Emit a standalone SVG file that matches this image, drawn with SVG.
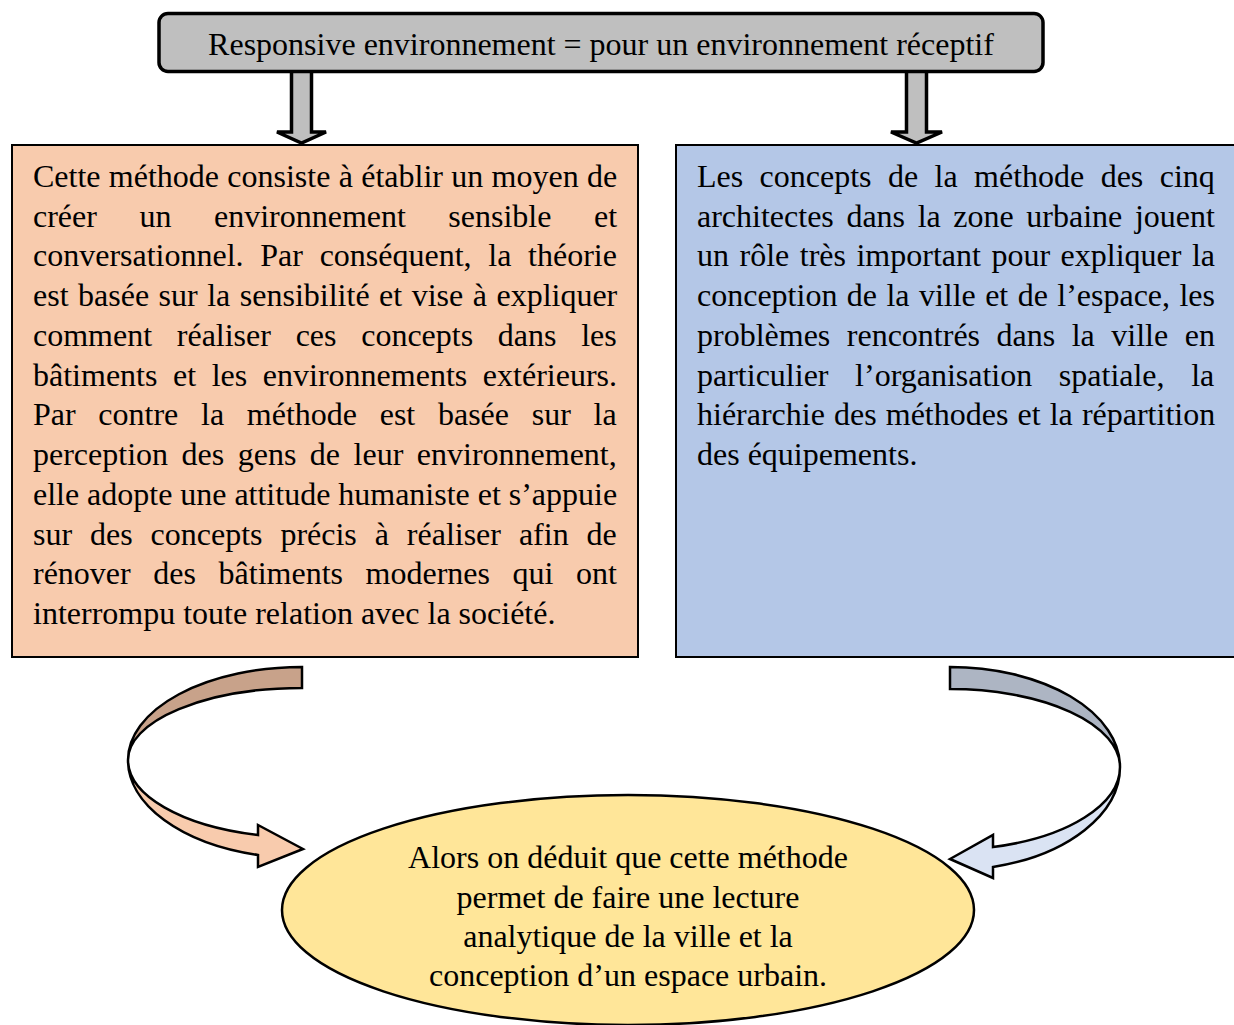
<svg xmlns="http://www.w3.org/2000/svg" width="1234" height="1025" viewBox="0 0 1234 1025">
<style>
text{font-family:"Liberation Serif","Times New Roman",serif;font-size:32px;fill:#000}
.c{text-anchor:middle}
.box{stroke:#000;stroke-width:2}
.arr{fill:#bfbfbf;stroke:#000;stroke-width:3.5;stroke-linejoin:miter}
.cv{stroke:#000;stroke-width:2.5;stroke-linejoin:miter}
</style>
<rect width="1234" height="1025" fill="#fff"/>
<g id="connectors">
<path class="arr" d="M291.5 71 L311.5 71 L311.5 132 L326 132 L301.5 143 L277 132 L291.5 132 Z"/>
<path class="arr" d="M906.5 71 L926.5 71 L926.5 132 L942 132 L916.5 143 L891 132 L906.5 132 Z"/>
<g id="curve-left">
<path class="cv" fill="#c8a28a" d="M302 667 A174 93 0 0 0 128 760 A174 72 0 0 1 302 688 Z"/>
<path class="cv" fill="#f8cbad" d="M128 760 A174 98 0 0 0 258 855 L258 867 L303 849 L258 825 L258 835 A174 77.6 0 0 1 128 760 Z"/>
</g>
<g id="curve-right">
<path class="cv" fill="#adb5c3" d="M950 667 A170 100 0 0 1 1120 767 A170 78 0 0 0 950 689 Z"/>
<path class="cv" fill="#dae3f3" d="M1120 767 A170 103.4 0 0 1 993 867 L993 878 L950 859 L993 835 L993 847 A170 82.7 0 0 0 1120 767 Z"/>
</g>
</g>
<g id="top">
<rect x="159" y="13.5" width="884" height="58" rx="9" fill="#bfbfbf" stroke="#000" stroke-width="3.5"/>
<text class="c" x="601" y="54.5">Responsive environnement = pour un environnement réceptif</text>
</g>
<g id="left">
<rect class="box" x="12" y="145" width="626" height="512" fill="#f8cbad"/>
<text x="33" y="186.5" word-spacing="0.3">Cette méthode consiste à établir un moyen de</text>
<text x="33" y="226.5" word-spacing="34.5">créer un environnement sensible et</text>
<text x="33" y="266" word-spacing="8.7">conversationnel. Par conséquent, la théorie</text>
<text x="33" y="305.5" word-spacing="1.5">est basée sur la sensibilité et vise à expliquer</text>
<text x="33" y="345.5" word-spacing="16.7">comment réaliser ces concepts dans les</text>
<text x="33" y="385.5" word-spacing="7.6">bâtiments et les environnements extérieurs.</text>
<text x="33" y="425" word-spacing="14.7">Par contre la méthode est basée sur la</text>
<text x="33" y="464.5" word-spacing="5.5">perception des gens de leur environnement,</text>
<text x="33" y="504.5" word-spacing="-0.1">elle adopte une attitude humaniste et s’appuie</text>
<text x="33" y="544.5" word-spacing="9.9">sur des concepts précis à réaliser afin de</text>
<text x="33" y="584" word-spacing="14.6">rénover des bâtiments modernes qui ont</text>
<text x="33" y="623.5">interrompu toute relation avec la société.</text>
</g>
<g id="right">
<rect class="box" x="676" y="145" width="570" height="512" fill="#b4c7e7"/>
<text x="697" y="186.5" word-spacing="8.4">Les concepts de la méthode des cinq</text>
<text x="697" y="226.5" word-spacing="4.6">architectes dans la zone urbaine jouent</text>
<text x="697" y="266" word-spacing="2.5">un rôle très important pour expliquer la</text>
<text x="697" y="305.5" word-spacing="1.4">conception de la ville et de l’espace, les</text>
<text x="697" y="345.5" word-spacing="8.5">problèmes rencontrés dans la ville en</text>
<text x="697" y="385.5" word-spacing="18.6">particulier l’organisation spatiale, la</text>
<text x="697" y="425" word-spacing="1.1">hiérarchie des méthodes et la répartition</text>
<text x="697" y="464.5">des équipements.</text>
</g>
<g id="conclusion">
<ellipse cx="628" cy="910" rx="346" ry="115" fill="#ffe699" stroke="#000" stroke-width="2.5"/>
<text class="c" x="628" y="868">Alors on déduit que cette méthode</text>
<text class="c" x="628" y="907.5">permet de faire une lecture</text>
<text class="c" x="628" y="947">analytique de la ville et la</text>
<text class="c" x="628" y="986">conception d’un espace urbain.</text>
</g>
</svg>
